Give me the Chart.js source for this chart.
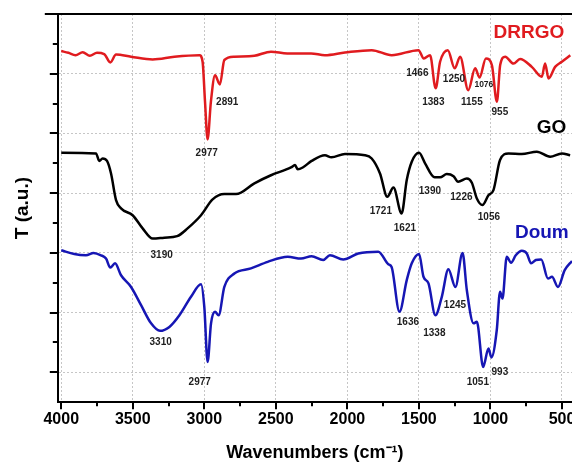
<!DOCTYPE html>
<html>
<head>
<meta charset="utf-8">
<script src="https://cdn.jsdelivr.net/npm/chart.js@4/dist/chart.umd.min.js"></script>
<style>
  html, body { margin: 0; padding: 0; background: #fff; }
</style>
</head>
<body>
<canvas id="ftir" width="572" height="464"></canvas>
<script>
// FTIR spectra: wavenumber (cm-1) and transmittance (offset, arbitrary units)
const drrgoWave = [4000, 3950, 3900, 3850, 3800, 3750, 3700, 3657, 3617, 3512, 3361, 3209, 3034, 3012, 2995, 2977, 2954, 2925, 2891, 2860, 2790, 2650, 2534, 2420, 2254, 2157, 2017, 1830, 1690, 1503, 1466, 1422, 1383, 1352, 1298, 1250, 1212, 1155, 1107, 1076, 1032, 990, 955, 932, 897, 839, 793, 711, 641, 618, 594, 548, 501, 442];
const drrgoT = [11.76, 11.70, 11.62, 11.72, 11.60, 11.70, 11.66, 11.38, 11.64, 11.57, 11.48, 11.57, 11.62, 11.40, 10.06, 8.80, 10.06, 10.95, 10.64, 11.46, 11.57, 11.60, 11.74, 11.68, 11.68, 11.62, 11.71, 11.79, 11.62, 11.79, 11.51, 11.62, 10.51, 11.40, 11.79, 11.18, 11.57, 10.45, 11.18, 10.87, 11.51, 11.29, 10.06, 11.29, 11.57, 11.34, 11.49, 11.23, 10.90, 11.34, 10.84, 11.23, 11.40, 11.62];

const goWave = [4000, 3757, 3734, 3711, 3680, 3652, 3617, 3582, 3501, 3431, 3361, 3280, 3190, 3117, 3023, 2942, 2860, 2778, 2650, 2534, 2394, 2366, 2347, 2312, 2250, 2157, 2111, 2017, 1877, 1830, 1772, 1721, 1678, 1621, 1585, 1550, 1499, 1457, 1390, 1352, 1305, 1258, 1226, 1165, 1130, 1095, 1056, 1014, 979, 933, 874, 781, 676, 583, 501, 443];
const goT = [8.35, 8.33, 8.08, 8.16, 8.08, 7.66, 6.77, 6.49, 6.26, 5.82, 5.48, 5.51, 5.56, 5.82, 6.26, 6.79, 6.97, 6.97, 7.33, 7.60, 7.86, 7.94, 7.80, 7.86, 8.08, 8.27, 8.20, 8.31, 8.27, 8.16, 7.66, 6.88, 7.19, 6.32, 7.44, 8.05, 8.35, 8.00, 7.53, 7.53, 7.64, 7.57, 7.38, 7.49, 7.35, 6.82, 6.60, 6.93, 7.10, 8.11, 8.33, 8.31, 8.39, 8.22, 8.33, 8.27];

const doumWave = [4000, 3909, 3827, 3774, 3722, 3687, 3657, 3624, 3582, 3512, 3442, 3372, 3310, 3244, 3174, 3093, 3023, 3000, 2977, 2953, 2925, 2900, 2860, 2790, 2674, 2557, 2417, 2324, 2250, 2169, 2122, 2029, 1924, 1784, 1714, 1691, 1636, 1585, 1550, 1499, 1468, 1433, 1385, 1340, 1294, 1245, 1195, 1165, 1118, 1095, 1051, 1014, 993, 956, 933, 916, 886, 856, 823, 781, 746, 716, 683, 645, 598, 570, 528, 481, 430];
const doumT = [5.09, 4.96, 4.92, 5.00, 4.92, 4.81, 4.51, 4.65, 4.25, 3.86, 3.25, 2.64, 2.39, 2.52, 2.91, 3.53, 3.95, 3.19, 1.35, 2.64, 3.03, 2.91, 3.86, 4.31, 4.48, 4.70, 4.87, 4.81, 4.89, 4.76, 4.92, 4.78, 4.98, 5.04, 4.62, 4.53, 3.03, 4.09, 4.65, 4.96, 4.20, 3.98, 2.91, 3.53, 4.45, 3.86, 5.00, 3.75, 2.64, 2.69, 1.18, 1.80, 1.50, 2.41, 3.70, 3.47, 4.87, 4.67, 4.92, 5.07, 4.98, 4.65, 4.76, 4.78, 4.14, 4.20, 3.86, 4.42, 4.73];

// Band assignments written next to each spectrum
const drrgoBands = ['2977', '2891', '1466', '1383', '1250', '1155', '1076', '955'];
const goBands = ['3190', '1721', '1621', '1390', '1226', '1056'];
const doumBands = ['3310', '2977', '1636', '1338', '1245', '1051', '993'];

// x-axis tick values (labelled every 500, minor every 250)
const waveTicks = [500, 750, 1000, 1250, 1500, 1750, 2000, 2250, 2500, 2750, 3000, 3250, 3500, 3750, 4000];

// Where each band label sits: [wavenumber, T, font size]
const drrgoBandPos = [[2983, 8.34, 10], [2840, 10.05, 10], [1511, 11.02, 10], [1399, 10.05, 10], [1255, 10.82, 10], [1130, 10.05, 10], [1046, 10.65, 8.5], [934, 9.72, 10]];
const goBandPos = [[3298, 4.92, 10], [1766, 6.40, 10], [1598, 5.83, 10], [1423, 7.07, 10], [1203, 6.87, 10], [1011, 6.20, 10]];
const doumBandPos = [[3305, 2.01, 10], [3032, 0.67, 10], [1577, 2.68, 10], [1392, 2.31, 10], [1248, 3.25, 10], [1088, 0.67, 10], [934, 1.01, 10]];
// Spectrum names: [wavenumber, T, align]
const namePos = [[731, 12.36, 'center'], [573, 9.18, 'center'], [829, 5.66, 'left']];

const FONT = '"Liberation Sans", Arial, Helvetica, sans-serif';
const RED = '#e01b1f';
const BLUE = '#1616b4';

const zip = (xs, ys) => xs.map((w, i) => ({ x: w, y: ys[i] }));

const overlay = {
  id: 'overlay',
  afterDraw(chart) {
    const { ctx, chartArea: a, scales: { x, y } } = chart;
    ctx.save();
    ctx.strokeStyle = '#000';
    ctx.lineWidth = 2;
    // frame top edge runs a little past the left axis
    ctx.beginPath();
    ctx.moveTo(a.left - 13, a.top);
    ctx.lineTo(a.left, a.top);
    ctx.stroke();
    // axis tick marks, major and minor
    waveTicks.forEach(w => {
      const px = Math.round(x.getPixelForValue(w));
      const len = w % 500 === 0 ? 7 : 4;
      ctx.beginPath();
      ctx.moveTo(px, a.bottom);
      ctx.lineTo(px, a.bottom + len);
      ctx.stroke();
    });
    for (let v = 1; v <= 12; v++) {
      const py = Math.round(y.getPixelForValue(v));
      const len = v % 2 ? 8 : 5;
      ctx.beginPath();
      ctx.moveTo(a.left, py);
      ctx.lineTo(a.left - len, py);
      ctx.stroke();
    }
    // band labels
    ctx.fillStyle = '#1e1e1e';
    ctx.textAlign = 'center';
    ctx.textBaseline = 'middle';
    const bandSets = [[drrgoBands, drrgoBandPos], [goBands, goBandPos], [doumBands, doumBandPos]];
    bandSets.forEach(([texts, pos]) => {
      texts.forEach((t, i) => {
        const [w, v, size] = pos[i];
        ctx.font = `bold ${size}px ${FONT}`;
        ctx.fillText(t, x.getPixelForValue(w), y.getPixelForValue(v));
      });
    });
    // spectrum names
    ctx.font = `bold 19px ${FONT}`;
    chart.data.datasets.forEach((ds, i) => {
      const [w, v, align] = namePos[i];
      ctx.fillStyle = ds.borderColor;
      ctx.textAlign = align;
      ctx.fillText(ds.label, x.getPixelForValue(w), y.getPixelForValue(v));
    });
    ctx.restore();
  }
};

new Chart(document.getElementById('ftir'), {
  type: 'line',
  data: {
    datasets: [
      { label: 'DRRGO', data: zip(drrgoWave, drrgoT), borderColor: RED },
      { label: 'GO', data: zip(goWave, goT), borderColor: '#000000' },
      { label: 'Doum', data: zip(doumWave, doumT), borderColor: BLUE }
    ]
  },
  options: {
    responsive: false,
    animation: false,
    events: [],
    layout: { padding: { top: 14, left: 0, right: 0, bottom: 0 } },
    elements: {
      point: { radius: 0 },
      line: { borderWidth: 2.5, cubicInterpolationMode: 'monotone', fill: false }
    },
    plugins: { legend: { display: false }, tooltip: { enabled: false } },
    scales: {
      x: {
        type: 'linear',
        reverse: true,
        min: 430,
        max: 4024,
        afterBuildTicks: s => { s.ticks = waveTicks.map(v => ({ value: v })); },
        ticks: {
          autoSkip: false,
          maxRotation: 0,
          padding: 8,
          color: '#000',
          font: { family: FONT, size: 16, weight: 'bold' },
          callback: v => (v % 500 === 0 ? String(v) : '')
        },
        grid: {
          drawTicks: false,
          lineWidth: 1,
          color: c => (c.tick && c.tick.value % 500 === 0 ? '#c6c6c6' : 'rgba(0,0,0,0)')
        },
        border: { color: '#000', width: 2, dash: [2, 2] },
        title: {
          display: true,
          text: 'Wavenumbers (cm\u207B\u00B9)',
          color: '#000',
          font: { family: FONT, size: 18, weight: 'bold' },
          padding: { top: 5, bottom: 0 }
        }
      },
      x2: {
        type: 'linear',
        position: 'top',
        min: 0,
        max: 1,
        grid: { display: false, drawTicks: false },
        ticks: { display: false },
        border: { display: true, color: '#000', width: 2 }
      },
      y: {
        type: 'linear',
        min: 0,
        max: 13,
        afterBuildTicks: s => {
          s.ticks = [];
          for (let v = 0; v <= 13; v++) s.ticks.push({ value: v });
        },
        ticks: { display: false },
        grid: {
          drawTicks: false,
          lineWidth: 1,
          color: c => (c.tick && c.tick.value % 2 === 1 && c.tick.value < 13 ? '#c6c6c6' : 'rgba(0,0,0,0)')
        },
        border: { color: '#000', width: 2, dash: [2, 2] },
        title: {
          display: true,
          text: 'T (a.u.)',
          color: '#000',
          font: { family: FONT, size: 19, weight: 'bold' },
          padding: { top: 11, bottom: 24 }
        }
      }
    }
  },
  plugins: [overlay]
});
</script>
</body>
</html>
